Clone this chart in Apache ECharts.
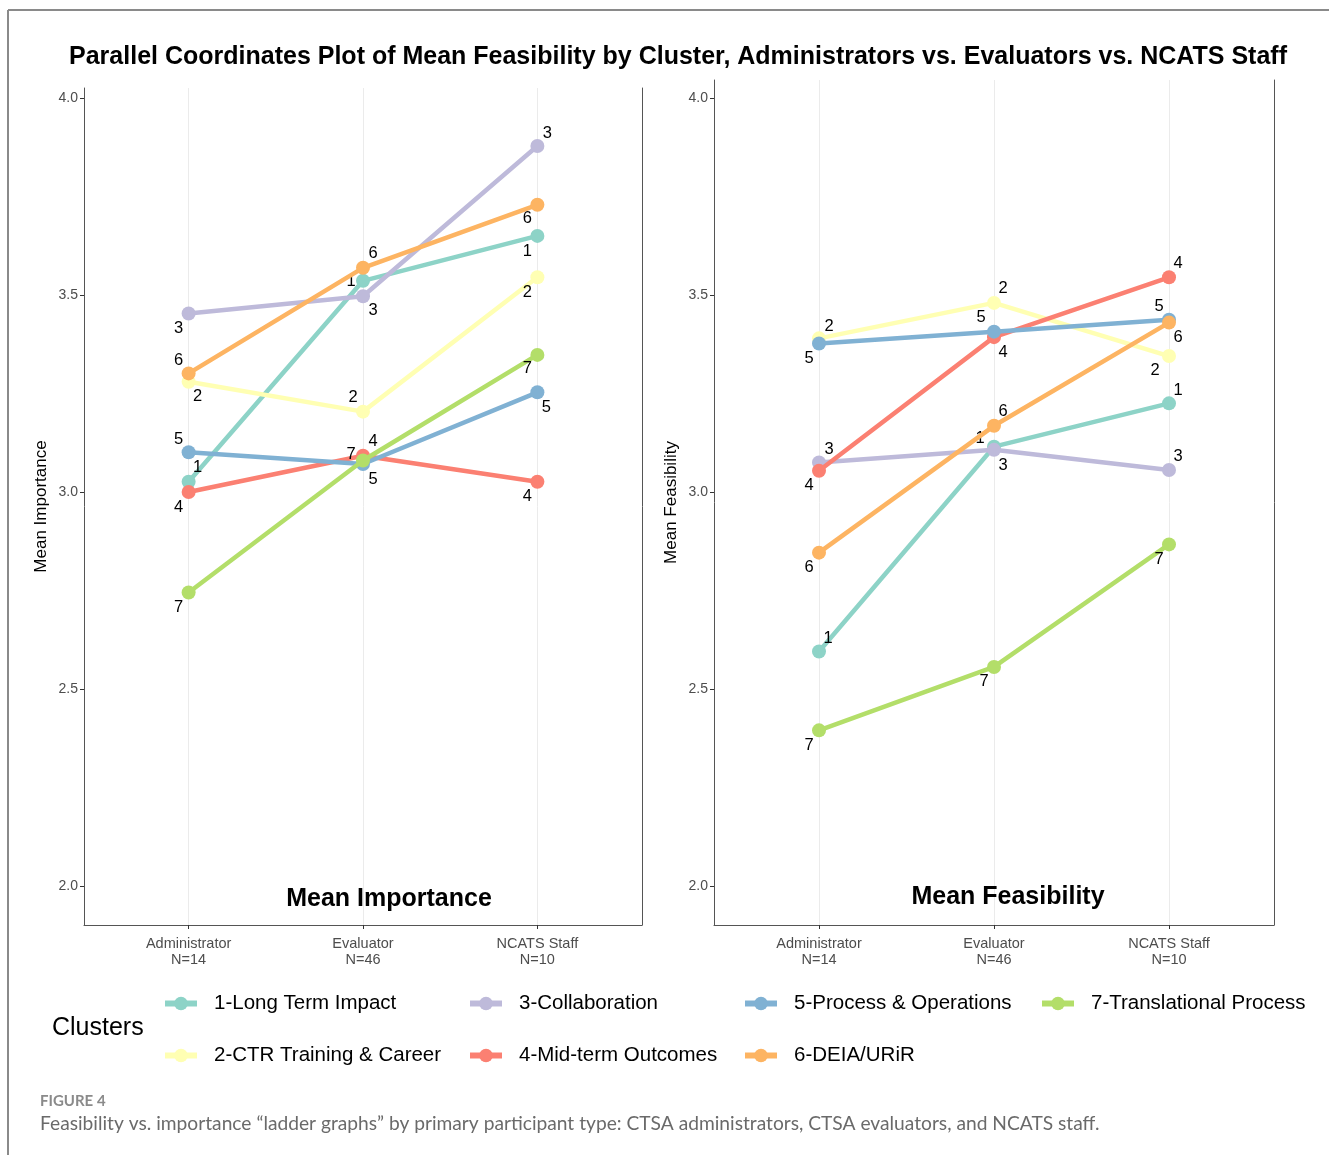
<!DOCTYPE html>
<html>
<head>
<meta charset="utf-8">
<script src="https://cdn.jsdelivr.net/npm/echarts@6/dist/echarts.min.js"></script>
<style>
html,body{margin:0;padding:0;background:#fff;}
#chart{width:1329px;height:1155px;}
</style>
</head>
<body>
<div id="chart"></div>
<script>
// ---------- DATA ----------
const groups = ["Administrator\nN=14", "Evaluator\nN=46", "NCATS Staff\nN=10"];
const groupPos = [1, 2, 3];
const clusters = ["1-Long Term Impact", "2-CTR Training & Career", "3-Collaboration",
  "4-Mid-term Outcomes", "5-Process & Operations", "6-DEIA/URiR", "7-Translational Process"];
const clusterIds = ["1", "2", "3", "4", "5", "6", "7"];
const yTicks = [2.0, 2.5, 3.0, 3.5, 4.0];

const importance1 = [3.026, 3.536, 3.650];
const importance2 = [3.280, 3.204, 3.545];
const importance3 = [3.453, 3.497, 3.878];
const importance4 = [3.000, 3.092, 3.026];
const importance5 = [3.101, 3.071, 3.253];
const importance6 = [3.301, 3.569, 3.729];
const importance7 = [2.745, 3.080, 3.348];

const feasibility1 = [2.595, 3.115, 3.225];
const feasibility2 = [3.390, 3.480, 3.345];
const feasibility3 = [3.075, 3.107, 3.056];
const feasibility4 = [3.054, 3.393, 3.545];
const feasibility5 = [3.377, 3.407, 3.437];
const feasibility6 = [2.846, 3.168, 3.430];
const feasibility7 = [2.395, 2.556, 2.867];

// ---------- STYLE / LAYOUT ----------
const colors = ["#8DD3C7", "#FFFFB3", "#BEBADA", "#FB8072", "#80B1D3", "#FDB462", "#B3DE69"];
const importanceSets = [importance1, importance2, importance3, importance4, importance5, importance6, importance7];
const feasibilitySets = [feasibility1, feasibility2, feasibility3, feasibility4, feasibility5, feasibility6, feasibility7];

// label offsets in px (dx, dy) per cluster per group
const impLabelOff = [
  [[9,-14],[-12,1],[-10,16]],
  [[9,15],[-10,-14],[-10,15]],
  [[-10,15],[10,14],[10,-13]],
  [[-10,15],[10,-14],[-10,15]],
  [[-10,-13],[10,15],[9,15]],
  [[-10,-13],[10,-14],[-10,14]],
  [[-10,15],[-12,-6],[-10,14]]
];
const feaLabelOff = [
  [[9,-13],[-14,-8],[9,-13]],
  [[10,-12],[9,-14],[-14,14]],
  [[10,-13],[9,16],[9,-13]],
  [[-10,15],[9,15],[9,-14]],
  [[-10,15],[-13,-14],[-10,-13]],
  [[-10,15],[9,-14],[9,15]],
  [[-10,15],[-10,15],[-10,15]]
];

const FONT = "Liberation Sans, Arial, sans-serif";
const grids = [
  {left: 84, top: 88, width: 558, height: 837},
  {left: 714, top: 80, width: 560, height: 845}
];
const yRanges = [
  {min: 1.901, max: 4.0254},
  {min: 1.901, max: 4.0457}
];

function xAxisFor(gi) {
  return {
    type: 'value', gridIndex: gi, min: 0.4, max: 3.6,
    axisLine: {show: true, onZero: false, lineStyle: {color: '#555', width: 1}},
    axisTick: {show: true, customValues: groupPos, length: 4, lineStyle: {color: '#333'}},
    axisLabel: {show: true, customValues: groupPos, margin: 11, color: '#4d4d4d', fontSize: 14.5,
      lineHeight: 16, fontFamily: FONT,
      formatter: v => groups[Math.round(v) - 1] || ''},
    splitLine: {show: true, lineStyle: {color: '#ebebeb', width: 1}}
  };
}
function yAxisFor(gi, name) {
  return {
    type: 'value', gridIndex: gi, position: 'left', min: yRanges[gi].min, max: yRanges[gi].max,
    name: name, nameLocation: 'middle', nameRotate: 90, nameGap: 34,
    nameTextStyle: {color: '#000', fontSize: 17, fontFamily: FONT},
    axisLine: {show: true, lineStyle: {color: '#555', width: 1}},
    axisTick: {show: true, customValues: yTicks, length: 4, lineStyle: {color: '#333'}},
    axisLabel: {show: true, customValues: yTicks, margin: 6, color: '#4d4d4d', fontSize: 14,
      fontFamily: FONT, formatter: v => Number(v).toFixed(1)},
    splitLine: {show: false}
  };
}
function yRightFor(gi) {
  return {
    type: 'value', gridIndex: gi, position: 'right', min: yRanges[gi].min, max: yRanges[gi].max,
    axisLine: {show: true, lineStyle: {color: '#555', width: 1}},
    axisTick: {show: false}, axisLabel: {show: false}, splitLine: {show: false}
  };
}

const series = [];
function addPanel(gi, sets, offs) {
  sets.forEach((vals, ci) => {
    series.push({
      type: 'line', name: clusters[ci], xAxisIndex: gi, yAxisIndex: gi * 2,
      data: vals.map((v, k) => [groupPos[k], v]),
      color: colors[ci],
      lineStyle: {width: 4.5, color: colors[ci]},
      itemStyle: {color: colors[ci]},
      symbol: 'circle', symbolSize: 14, showSymbol: true,
      z: 2 + ci,
      label: {show: true, position: 'inside', formatter: clusterIds[ci],
        color: '#000', fontSize: 16.5, fontFamily: FONT},
      labelLayout: p => ({dx: offs[ci][p.dataIndex][0], dy: offs[ci][p.dataIndex][1], hideOverlap: false}),
      emphasis: {disabled: true},
      animation: false
    });
  });
}
addPanel(0, importanceSets, impLabelOff);
addPanel(1, feasibilitySets, feaLabelOff);

// legends: column-major arrangement, one legend per item
const legendCols = [157, 462, 737, 1034];
const legendRows = [988, 1040];
const legends = clusters.map((c, i) => ({
  data: [c],
  left: legendCols[Math.floor(i / 2)],
  top: legendRows[i % 2],
  itemWidth: 32, itemHeight: 17, itemGap: 0,
  lineStyle: {width: 6},
  textStyle: {color: '#000', fontSize: 20.5, fontFamily: FONT, padding: [0, 0, 0, 12]},
  selectedMode: false
}));

const option = {
  backgroundColor: '#fff',
  animation: false,
  grid: grids,
  xAxis: [xAxisFor(0), xAxisFor(1)],
  yAxis: [yAxisFor(0, 'Mean Importance'), yRightFor(0), yAxisFor(1, 'Mean Feasibility'), yRightFor(1)],
  legend: legends,
  series: series,
  graphic: [
    {type: 'line', z: 100, shape: {x1: 8, y1: 10, x2: 1329, y2: 10}, style: {stroke: '#8a8a8a', lineWidth: 2}, silent: true},
    {type: 'line', z: 100, shape: {x1: 8, y1: 10, x2: 8, y2: 1155}, style: {stroke: '#8a8a8a', lineWidth: 2}, silent: true},
    {type: 'text', z: 100, x: 678, y: 57, style: {
      text: 'Parallel Coordinates Plot of Mean Feasibility by Cluster, Administrators vs. Evaluators vs. NCATS Staff',
      fill: '#000', font: 'bold 25px ' + FONT, align: 'center', verticalAlign: 'middle'}},
    {type: 'text', z: 100, x: 389, y: 899, style: {text: 'Mean Importance', fill: '#000',
      font: 'bold 25px ' + FONT, align: 'center', verticalAlign: 'middle'}},
    {type: 'text', z: 100, x: 1008, y: 897, style: {text: 'Mean Feasibility', fill: '#000',
      font: 'bold 25px ' + FONT, align: 'center', verticalAlign: 'middle'}},
    {type: 'text', z: 100, x: 52, y: 1028, style: {text: 'Clusters', fill: '#000',
      font: '25px ' + FONT, verticalAlign: 'middle'}},
    {type: 'text', z: 100, x: 40, y: 1101, style: {text: 'FIGURE 4', fill: '#8a8a8a',
      font: 'bold 15px Lato, sans-serif', verticalAlign: 'middle'}},
    {type: 'text', z: 100, x: 40, y: 1124, style: {
      text: 'Feasibility vs. importance \u201cladder graphs\u201d by primary participant type: CTSA administrators, CTSA evaluators, and NCATS staff.',
      fill: '#6a6a6a', font: '19.2px Lato, sans-serif', verticalAlign: 'middle'}}
  ]
};

const chart = echarts.init(document.getElementById('chart'), null, {renderer: 'canvas'});
chart.setOption(option);
</script>
</body>
</html>
